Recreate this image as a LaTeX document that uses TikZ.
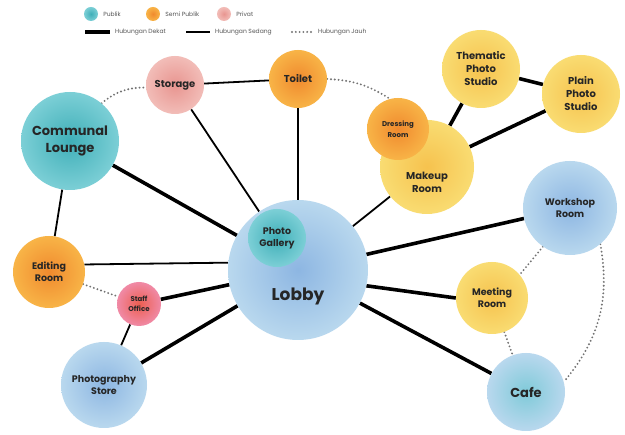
\documentclass[tikz,border=0pt]{standalone}
\usepackage{fontspec}
\setmainfont{Poppins}
\usetikzlibrary{positioning}

\pgfdeclarelayer{bg}
\pgfsetlayers{bg,main}

\definecolor{tealin}{HTML}{3FAFB8}
\definecolor{tealout}{HTML}{7CCFD6}
\definecolor{bluein}{HTML}{8DB6E2}
\definecolor{blueout}{HTML}{B9D8EE}
\definecolor{orangein}{HTML}{F08A2E}
\definecolor{orangeout}{HTML}{F8B447}
\definecolor{yellowin}{HTML}{F6C24E}
\definecolor{yellowout}{HTML}{F9DC72}
\definecolor{pinkin}{HTML}{E89590}
\definecolor{pinkout}{HTML}{F2BDB8}
\definecolor{redin}{HTML}{EC5E50}
\definecolor{redout}{HTML}{F08AA6}
\definecolor{keytext}{HTML}{555555}

\begin{document}
\begin{tikzpicture}[
    x=1pt, y=-1pt,
    room/.style={circle, inner sep=0pt, align=center, text=black!85,
        font=\bfseries\fontsize{9.5}{12}\selectfont},
    publik/.style={room, shade, inner color=tealin, outer color=tealout},
    biru/.style={room, shade, inner color=bluein, outer color=blueout},
    semipublik/.style={room, shade, inner color=orangein, outer color=orangeout},
    kuning/.style={room, shade, inner color=yellowin, outer color=yellowout},
    privat/.style={room, shade, inner color=pinkin, outer color=pinkout},
    merah/.style={room, shade, inner color=redin, outer color=redout},
    keydot/.style={circle, inner sep=0pt, minimum size=14pt},
    keylabel/.style={inner sep=0pt, text=keytext, font=\fontsize{6}{7}\selectfont},
    dekat/.style={line width=3.6pt},
    sedang/.style={line width=1.8pt},
    jauh/.style={line width=2.1pt, black!55, dash pattern=on 0pt off 3.8pt, line cap=round}
]
\useasboundingbox (0,0) rectangle (625,435);

% legend
\node (kpublik) [keydot, shade, inner color=tealin, outer color=tealout] at (91,14) {};
\node (tpublik) [keylabel, right=5pt of kpublik] {Publik};
\node (ksemi) [keydot, shade, inner color=orangein, outer color=orangeout] at (153,14) {};
\node (tsemi) [keylabel, right=5pt of ksemi] {Semi Publik};
\node (kprivat) [keydot, shade, inner color=pinkin, outer color=pinkout] at (224,14) {};
\node (tprivat) [keylabel, right=5pt of kprivat] {Privat};

\coordinate (dekat1) at (85,32);
\coordinate (dekat2) at (110,32);
\node (tdekat) [keylabel, right=5pt of dekat2] {Hubungan Dekat};
\coordinate (sedang1) at (186,32);
\coordinate (sedang2) at (210,32);
\node (tsedang) [keylabel, right=5pt of sedang2] {Hubungan Sedang};
\coordinate (jauh1) at (292,32);
\coordinate (jauh2) at (312,32);
\node (tjauh) [keylabel, right=6pt of jauh2] {Hubungan Jauh};
\draw [dekat] (dekat1) -- (dekat2);
\draw [sedang] (sedang1) -- (sedang2);
\draw [jauh] (jauh1) -- (jauh2);

% rooms
\node (lobby) [biru, minimum size=140pt,
    label={[font=\bfseries\fontsize{17}{20}\selectfont, text=black!85, yshift=-26pt]center:Lobby}] at (298,270) {};
\node (gallery) [publik, minimum size=58pt] at (277,238) {Photo\\Gallery};
\node (lounge) [publik, minimum size=98pt, font=\bfseries\fontsize{13}{17}\selectfont] at (70,141) {Communal\\Lounge};
\node (storage) [privat, minimum size=58pt, font=\bfseries\fontsize{10}{12}\selectfont] at (175,85) {Storage};
\node (toilet) [semipublik, minimum size=58pt, font=\bfseries\fontsize{10}{12}\selectfont] at (298,79) {Toilet};
\node (makeup) [kuning, minimum size=94pt,
    label={[font=\bfseries\fontsize{10}{13}\selectfont, text=black!85, align=center, yshift=-15pt]center:Makeup\\Room}] at (427,167) {};
\node (dressing) [semipublik, minimum size=62pt, font=\bfseries\fontsize{7}{11}\selectfont] at (398,129) {Dressing\\Room};
\node (thematic) [kuning, minimum size=78pt, font=\bfseries\fontsize{10}{13}\selectfont] at (481,69) {Thematic\\Photo\\Studio};
\node (plain) [kuning, minimum size=78pt, font=\bfseries\fontsize{10}{13}\selectfont] at (581,94) {Plain\\Photo\\Studio};
\node (workshop) [biru, minimum size=94pt] at (570,208) {Workshop\\Room};
\node (meeting) [kuning, minimum size=72pt] at (492,298) {Meeting\\Room};
\node (cafe) [biru, shade, inner color=tealout!80!bluein, outer color=blueout, minimum size=78pt,
    font=\bfseries\fontsize{13}{15}\selectfont] at (526,392) {Cafe};
\node (editing) [semipublik, minimum size=72pt] at (49,272) {Editing\\Room};
\node (staff) [merah, minimum size=44pt, font=\bfseries\fontsize{7}{10.5}\selectfont] at (139,304) {Staff\\Office};
\node (store) [biru, minimum size=86pt] at (104,385) {Photography\\Store};

% connections, kept under the rooms
\begin{pgfonlayer}{bg}
\fill [white] (0,0) rectangle (625,435);

\draw [dekat] (lounge) -- (lobby);
\draw [dekat] (thematic) -- (plain);
\draw [dekat] (thematic) -- (makeup);
\draw [dekat] (plain) -- (makeup);
\draw [dekat] (lobby) -- (workshop);
\draw [dekat] (lobby.-13) -- (meeting.west);
\draw [dekat] (lobby) -- (cafe);
\draw [dekat] (staff) -- (lobby);
\draw [dekat] (store) -- (lobby);

\draw [sedang] (storage) -- (toilet);
\draw [sedang] (storage) -- (lobby);
\draw [sedang] (toilet) -- (lobby);
\draw [sedang] (lounge) -- (editing);
\draw [sedang] (editing.12) -- (lobby.174);
\draw [sedang] (makeup) -- (lobby);
\draw [sedang] (staff) -- (store);

\draw [jauh] (lounge.50) to[bend left=20] (storage.185);
\draw [jauh] (toilet.east) to[bend left=15] (dressing.105);
\draw [jauh] (editing) -- (staff);
\draw [jauh] (workshop.235) -- (meeting.40);
\draw [jauh] (meeting) -- (cafe);
\draw [jauh] (workshop.-50) to[bend left=25] (cafe.15);
\end{pgfonlayer}
\end{tikzpicture}
\end{document}
